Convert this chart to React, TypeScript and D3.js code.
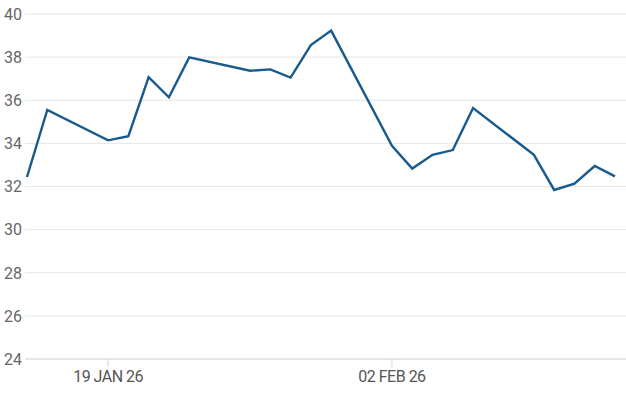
import React from "react";
import * as d3 from "d3";

const dates: string[] = [
  "2026-01-15", "2026-01-16", "2026-01-19", "2026-01-20", "2026-01-21", "2026-01-22", "2026-01-23",
  "2026-01-26", "2026-01-27", "2026-01-28", "2026-01-29", "2026-01-30",
  "2026-02-02", "2026-02-03", "2026-02-04", "2026-02-05", "2026-02-06",
  "2026-02-09", "2026-02-10", "2026-02-11", "2026-02-12", "2026-02-13",
];
const values: number[] = [
  32.44, 35.55, 34.14, 34.33, 37.07, 36.14, 37.99,
  37.37, 37.43, 37.05, 38.56, 39.23,
  33.89, 32.83, 33.47, 33.69, 35.64,
  33.47, 31.84, 32.13, 32.95, 32.47,
];
const yTicks: number[] = [24, 26, 28, 30, 32, 34, 36, 38, 40];
const xTickDates: string[] = ["2026-01-19", "2026-02-02"];
const xTickLabels: string[] = ["19 JAN 26", "02 FEB 26"];

const W = 626;
const H = 417;

export default function App() {
  const parse = d3.utcParse("%Y-%m-%d");
  const data = dates.map((d, i) => ({ date: parse(d) as Date, value: values[i] }));
  const x = d3
    .scaleUtc()
    .domain([parse("2026-01-15") as Date, parse("2026-02-13") as Date])
    .range([27, 615]);
  const y = d3.scaleLinear().domain([24, 40]).range([359, 14]);
  const line = d3
    .line<{ date: Date; value: number }>()
    .x((d) => x(d.date))
    .y((d) => y(d.value));

  return (
    <div style={{ position: "fixed", left: 0, top: 0 }}>
      <svg width={W} height={H} style={{ display: "block", background: "#fff" }}>
        {yTicks.map((t) => (
          <g key={t}>
            <line
              x1={25}
              x2={W}
              y1={y(t)}
              y2={y(t)}
              stroke={t === 24 ? "#dbe0e4" : "#e6e6e6"}
              strokeWidth={t === 24 ? 1.5 : 1}
            />
            <text
              x={4}
              y={y(t)}
              dy="0.36em"
              fontFamily="Roboto, sans-serif"
              fontSize={16}
              fill="#666"
            >
              {t}
            </text>
          </g>
        ))}
        {xTickDates.map((d, i) => {
          const xp = x(parse(d) as Date);
          return (
            <g key={d}>
              <line x1={xp} x2={xp} y1={359} y2={367} stroke="#d6d6d6" strokeWidth={1} />
              <text
                x={xp}
                y={382}
                textAnchor="middle"
                fontFamily="Roboto, sans-serif"
                fontSize={16}
                letterSpacing={-0.5}
                fill="#555"
              >
                {xTickLabels[i]}
              </text>
            </g>
          );
        })}
        <path
          d={line(data) || ""}
          fill="none"
          stroke="#175a8e"
          strokeWidth={2.4}
          strokeLinejoin="miter"
        />
      </svg>
    </div>
  );
}
